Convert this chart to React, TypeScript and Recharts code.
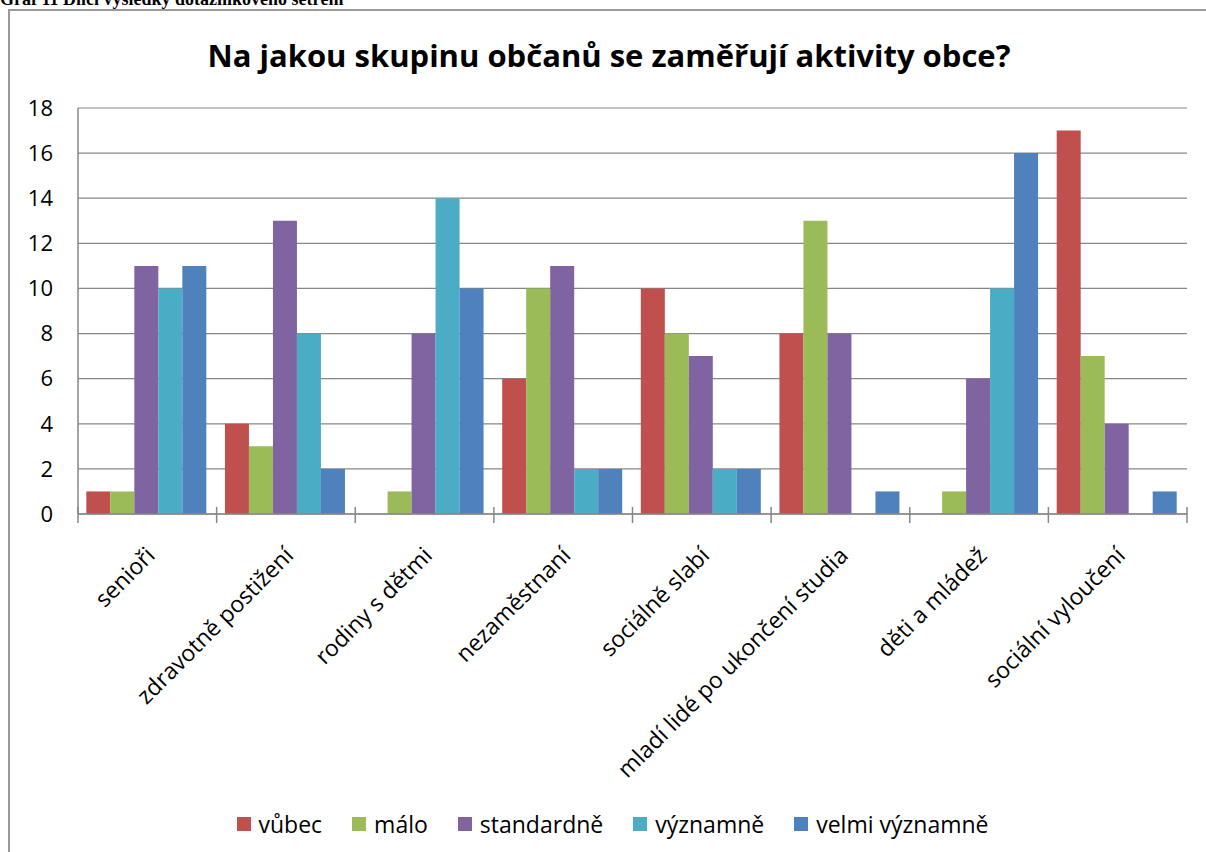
import React from "react"
import { BarChart, Bar, XAxis, YAxis, CartesianGrid, Legend } from "recharts"

const categories = [
  "senioři",
  "zdravotně postižení",
  "rodiny s dětmi",
  "nezaměstnaní",
  "sociálně slabí",
  "mladí lidé po ukončení studia",
  "děti a mládež",
  "sociální vyloučení",
]
const vubec = [1, 4, 0, 6, 10, 8, 0, 17]
const malo = [1, 3, 1, 10, 8, 13, 1, 7]
const standardne = [11, 13, 8, 11, 7, 8, 6, 4]
const vyznamne = [10, 8, 14, 2, 2, 0, 10, 0]
const velmiVyznamne = [11, 2, 10, 2, 2, 1, 16, 1]
const yTicks = [0, 2, 4, 6, 8, 10, 12, 14, 16, 18]

const series = [
  { key: "vubec", name: "vůbec", color: "#C0504D", values: vubec },
  { key: "malo", name: "málo", color: "#9BBB59", values: malo },
  { key: "standardne", name: "standardně", color: "#8064A2", values: standardne },
  { key: "vyznamne", name: "významně", color: "#4BACC6", values: vyznamne },
  { key: "velmi", name: "velmi významně", color: "#4F81BD", values: velmiVyznamne },
]

const data = categories.map((group, i) => {
  const row: Record<string, string | number> = { group }
  series.forEach((s) => {
    row[s.key] = s.values[i]
  })
  return row
})

const FONT = "'Open Sans', sans-serif"
const AXIS = "#878787"

function CategoryTick(props: any) {
  const { x, y, payload, index } = props
  const half = payload?.offset ?? 69
  const ax = x + 9
  const ay = y + 43
  return (
    <g>
      <line x1={x - half} x2={x - half} y1={y - 7} y2={y + 9} stroke={AXIS} strokeWidth={1.5} />
      {index === categories.length - 1 && (
        <line x1={x + half} x2={x + half} y1={y - 7} y2={y + 9} stroke={AXIS} strokeWidth={1.5} />
      )}
      <text
        x={ax}
        y={ay}
        textAnchor="end"
        transform={`rotate(-45, ${ax}, ${ay})`}
        fontFamily={FONT}
        fontSize={23}
        fill="#000"
      >
        {payload.value}
      </text>
    </g>
  )
}

function LegendContent() {
  return (
    <div
      style={{
        display: "flex",
        justifyContent: "center",
        fontFamily: FONT,
        fontSize: 23,
        color: "#000",
        paddingLeft: 30,
      }}
    >
      {series.map((s) => (
        <div key={s.key} style={{ display: "flex", alignItems: "center", marginRight: 30 }}>
          <span
            style={{ width: 14, height: 14, background: s.color, display: "inline-block", marginRight: 8 }}
          />
          <span>{s.name}</span>
        </div>
      ))}
    </div>
  )
}

export default function App() {
  return (
    <div
      style={{
        position: "absolute",
        left: 0,
        top: 0,
        width: 1206,
        height: 852,
        overflow: "hidden",
        background: "#fff",
      }}
    >
      <div
        style={{
          position: "absolute",
          left: 0,
          top: -10,
          fontFamily: "'Liberation Serif', serif",
          fontWeight: "bold",
          fontSize: 18,
          lineHeight: "18px",
          whiteSpace: "nowrap",
        }}
      >
        Graf 11 Dílčí výsledky dotazníkového šetření
      </div>
      <div
        style={{
          position: "absolute",
          left: 8,
          top: 9,
          width: 1300,
          height: 1000,
          border: "2px solid #9a9a9a",
          boxSizing: "border-box",
          background: "#fff",
        }}
      />
      <div
        style={{
          position: "absolute",
          left: 6,
          top: 34,
          width: 1206,
          textAlign: "center",
          fontFamily: FONT,
          fontWeight: "bold",
          fontSize: 31,
          color: "#000",
        }}
      >
        Na jakou skupinu občanů se zaměřují aktivity obce?
      </div>
      <div style={{ position: "absolute", left: 0, top: 0 }}>
        <BarChart
          width={1206}
          height={852}
          data={data}
          margin={{ top: 108, right: 19, left: 38, bottom: 12 }}
          barCategoryGap="6%"
          barGap={0}
        >
          <CartesianGrid vertical={false} stroke={AXIS} strokeWidth={1.2} />
          <XAxis
            dataKey="group"
            interval={0}
            height={294}
            tickSize={0}
            tickMargin={0}
            tickLine={false}
            axisLine={{ stroke: AXIS, strokeWidth: 1.5 }}
            tick={<CategoryTick />}
          />
          <YAxis
            width={40}
            domain={[0, 18]}
            ticks={yTicks}
            interval={0}
            tickLine={false}
            tickMargin={19}
            axisLine={{ stroke: AXIS, strokeWidth: 1.5 }}
            tick={{ fontFamily: FONT, fontSize: 22, fill: "#000" }}
          />
          <Legend verticalAlign="bottom" content={<LegendContent />} />
          {series.map((s) => (
            <Bar key={s.key} dataKey={s.key} name={s.name} fill={s.color} isAnimationActive={false} />
          ))}
        </BarChart>
      </div>
    </div>
  )
}
